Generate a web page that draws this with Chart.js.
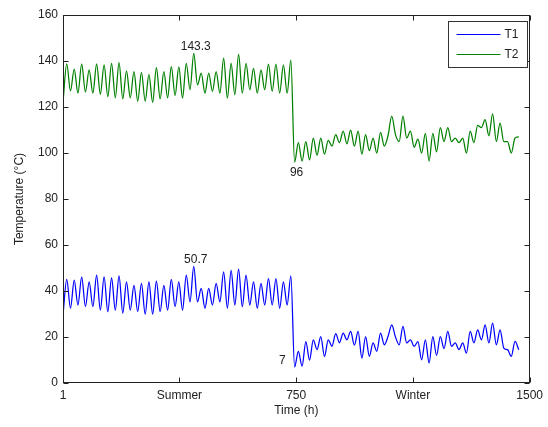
<!DOCTYPE html>
<html>
<head>
<meta charset="utf-8">
<script src="https://cdn.jsdelivr.net/npm/chart.js@4/dist/chart.umd.min.js"></script>
<style>
  body { margin: 0; background: #fff; }
  #tempPlotWrapper { width: 548px; height: 427px; }
</style>
</head>
<body>
<div id="tempPlotWrapper"><canvas id="tempPlot" width="548" height="427"></canvas></div>
<script>
// one reading every 12 h (daily max / min)
const stepHours = 12

const t1Values = [
  29.6, 45.1, 32.5, 44.7, 33.9, 46.1, 33.2, 44, 33.2, 46.9,
  31.7, 46.1, 31, 45.7, 31.7, 46.6, 30.3, 44, 31.7, 42.5,
  31, 43.3, 29.9, 44, 29.9, 44.3, 31, 42.5, 31.7, 45.1,
  33.2, 44, 31.7, 46.9, 35.3, 50.7, 35.3, 41.1, 32.5, 41.1,
  33.9, 43.3, 35.3, 48.3, 32.5, 49, 33.9, 49.5, 33.2, 46.9,
  33.9, 44, 32.5, 43.3, 33.9, 45.4, 33.9, 45.4, 32.5, 44,
  33.9, 46.6,
  7, 13.8, 7.3, 18, 10, 18.8, 14.5, 20.2, 11.5, 18.8,
  16, 21.5, 17.5, 21.7, 18.8, 22.4, 16.5, 22.4, 10.8, 20.2,
  11.6, 17.4, 13.8, 21.7, 16.6, 20.2, 25.3, 20, 16.6, 24.6,
  17.4, 18.8, 15.9, 18,
  10.1, 18.8, 8.7, 20.2, 12, 20.2, 15, 22.4, 15.9, 17.4,
  14.5, 17.4, 13, 22.4, 17.4, 23.1, 18.8, 25.3, 17.4, 26,
  16.6, 23.1, 15.2, 14.5, 11.6, 18.1, 14.5
]

const t2Values = [
  122, 138.7, 127, 136.5, 126, 138.7, 126.5, 136.1, 126, 138.7,
  125.5, 138.3, 124.5, 139, 124, 139.3, 123.5, 135.7, 124, 135.4,
  122.5, 135.1, 122.5, 134.2, 122, 137.1, 123.5, 135.4, 124, 137.6,
  125, 137.5, 123.9, 139, 127.5, 143.3, 129.6, 134.7, 126, 134.7,
  126.8, 135.4, 126, 141.2, 123.9, 139, 125.3, 142.9, 126, 139,
  127.5, 136.8, 126, 136.1, 127.5, 138.6, 126.8, 138.6, 126, 138.3,
  126, 140.4,
  96, 104.5, 96.5, 105, 97, 106.5, 99, 106.5, 99.5, 105.5,
  103, 108, 104.5, 109.5, 104, 110, 103, 109.5, 99.5, 108,
  101, 106.5, 100, 109, 103, 107.5, 116, 108, 105, 116,
  106.5, 109.5, 102.5, 106,
  100, 108.5, 96.5, 108.5, 100.5, 111, 105, 111, 105, 106.5,
  104.5, 106.5, 100, 109.5, 104.5, 112, 111, 114.5, 107.5, 117,
  105, 113, 105, 105, 100, 106.5, 107
]

const seriesNames = ['T1', 'T2']
const xTickValues = [1, 375, 750, 1125, 1500]
const xTickLabels = ['1', 'Summer', '750', 'Winter', '1500']
const yTickValues = [0, 20, 40, 60, 80, 100, 120, 140, 160]

const seriesColors = ['#0000ff', '#008000']
const inkColor = '#222'
const fontFamily = "'Liberation Sans', Arial, sans-serif"

const toPoints = values => values.map((v, i) => ({x: 1 + i * stepHours, y: v}))

// labels of the extremes: which series, max or min, and where the text sits
const extremeNotes = [
  {series: 1, pick: 'max', side: 'above'},
  {series: 0, pick: 'max', side: 'above'},
  {series: 1, pick: 'min', side: 'below'},
  {series: 0, pick: 'min', side: 'left'}
]

const matlabLook = {
  id: 'matlabLook',
  afterDatasetsDraw(chart) {
    const {ctx, chartArea: a, scales: {x, y}} = chart
    ctx.save()
    ctx.strokeStyle = inkColor
    ctx.lineWidth = 1
    const l = Math.round(a.left) + 0.5, r = Math.round(a.right) - 0.5
    const t = Math.round(a.top) + 0.5, b = Math.round(a.bottom) - 0.5
    ctx.strokeRect(l, t, r - l, b - t)
    ctx.beginPath()
    xTickValues.forEach(v => {
      const px = Math.round(x.getPixelForValue(v)) + 0.5
      ctx.moveTo(px, b); ctx.lineTo(px, b - 5)
      ctx.moveTo(px, t); ctx.lineTo(px, t + 5)
    })
    yTickValues.forEach(v => {
      const py = Math.round(y.getPixelForValue(v)) + 0.5
      ctx.moveTo(l, py); ctx.lineTo(l + 5, py)
      ctx.moveTo(r, py); ctx.lineTo(r - 5, py)
    })
    ctx.stroke()

    // extreme values
    ctx.fillStyle = inkColor
    ctx.font = '12px ' + fontFamily
    extremeNotes.forEach(n => {
      const vals = chart.data.datasets[n.series].data
      let best = 0
      vals.forEach((p, i) => {
        if (n.pick === 'max' ? p.y > vals[best].y : p.y < vals[best].y) best = i
      })
      const px = x.getPixelForValue(vals[best].x)
      const py = y.getPixelForValue(vals[best].y)
      const label = String(vals[best].y)
      if (n.side === 'above') {
        ctx.textAlign = 'center'; ctx.textBaseline = 'bottom'
        ctx.fillText(label, px + 2, py - 1)
      } else if (n.side === 'below') {
        ctx.textAlign = 'center'; ctx.textBaseline = 'top'
        ctx.fillText(label, px + 2, py + 4)
      } else {
        ctx.textAlign = 'right'; ctx.textBaseline = 'middle'
        ctx.fillText(label, px - 9, py - 6)
      }
    })

    // legend box, top right inside the axes
    const bx = 448.5, by = 21.5, bw = 79, bh = 46
    ctx.fillStyle = '#fff'
    ctx.fillRect(bx, by, bw, bh)
    ctx.strokeStyle = '#333'
    ctx.strokeRect(bx, by, bw, bh)
    chart.data.datasets.forEach((ds, i) => {
      const ly = Math.round(by + 12 + i * 20) + 0.5
      ctx.strokeStyle = ds.borderColor
      ctx.beginPath()
      ctx.moveTo(bx + 8, ly); ctx.lineTo(bx + 52, ly)
      ctx.stroke()
      ctx.fillStyle = inkColor
      ctx.textAlign = 'left'; ctx.textBaseline = 'middle'
      ctx.fillText(ds.label, bx + 56, ly)
    })
    ctx.restore()
  }
}

new Chart(document.getElementById('tempPlot'), {
  type: 'line',
  data: {
    datasets: [{
      label: seriesNames[0],
      data: toPoints(t1Values),
      borderColor: seriesColors[0],
      borderWidth: 1.25,
      pointRadius: 0,
      cubicInterpolationMode: 'monotone',
      fill: false
    }, {
      label: seriesNames[1],
      data: toPoints(t2Values),
      borderColor: seriesColors[1],
      borderWidth: 1.25,
      pointRadius: 0,
      cubicInterpolationMode: 'monotone',
      fill: false
    }]
  },
  options: {
    responsive: false,
    animation: false,
    layout: {padding: {top: 15, right: 15, left: 0, bottom: 0}},
    plugins: {legend: {display: false}, tooltip: {enabled: false}},
    scales: {
      x: {
        type: 'linear',
        min: 1,
        max: 1500,
        afterBuildTicks: scale => { scale.ticks = xTickValues.map(v => ({value: v})) },
        afterFit: scale => { scale.height = 44 },
        grid: {display: false, drawTicks: false},
        border: {display: false},
        ticks: {
          autoSkip: false,
          maxRotation: 0,
          padding: 5,
          color: inkColor,
          font: {family: fontFamily, size: 12},
          callback: v => xTickLabels[xTickValues.indexOf(v)]
        },
        title: {
          display: true,
          text: 'Time (h)',
          color: inkColor,
          font: {family: fontFamily, size: 12},
          padding: {top: 0, bottom: 9}
        }
      },
      y: {
        min: 0,
        max: 160,
        afterBuildTicks: scale => { scale.ticks = yTickValues.map(v => ({value: v})) },
        afterFit: scale => { scale.width = 63 },
        grid: {display: false, drawTicks: false},
        border: {display: false},
        ticks: {
          padding: 5,
          color: inkColor,
          font: {family: fontFamily, size: 12}
        },
        title: {
          display: true,
          text: 'Temperature (°C)',
          color: inkColor,
          font: {family: fontFamily, size: 12},
          padding: {top: 12, bottom: 0}
        }
      }
    }
  },
  plugins: [matlabLook]
})
</script>
</body>
</html>
